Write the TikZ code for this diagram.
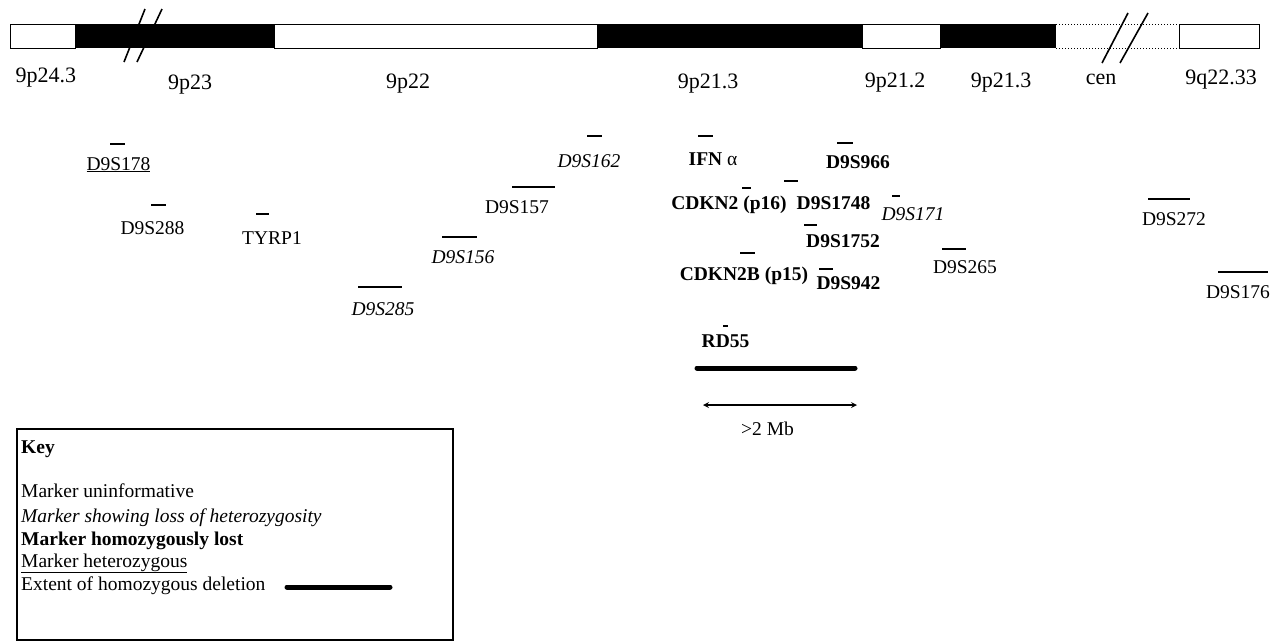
\documentclass[tikz,border=0pt]{standalone}
\usepackage{fontspec}
\setmainfont{Liberation Serif}
\newcommand\lblsize{\fontsize{19.5}{23}\selectfont}
\newcommand\bandsize{\fontsize{22}{26}\selectfont}
\tikzset{
  band/.style={draw=black,fill=white,line width=1pt},
  dband/.style={fill=black},
  cenline/.style={draw=black,dotted,line width=1pt},
  brk/.style={draw=black,line width=1.6pt},
  bandlbl/.style={anchor=base,inner sep=0pt,font=\bandsize},
  uninf/.style={anchor=base,inner sep=0pt,font=\lblsize},
  loh/.style={uninf,font=\lblsize\itshape},
  homlost/.style={uninf,font=\lblsize\bfseries},
  tick/.style={draw=black,line width=1.3pt},
  tickthick/.style={draw=black,line width=2.6pt},
  delbar/.style={draw=black,line width=5pt,line cap=round},
  span/.style={draw=black,line width=1.6pt,<->,>=stealth},
  keytxt/.style={anchor=base west,inner sep=0pt,font=\lblsize}
}

\begin{document}
\begin{tikzpicture}[x=1pt,y=-1pt]
  \useasboundingbox (0,0) rectangle (1287,641);
  % chromosome 9 bar
  \draw[band] (10,24) rectangle (75,48);
  \fill[dband] (75,24) rectangle (274,48);
  \draw[band] (274,24) rectangle (597,48);
  \fill[dband] (597,24) rectangle (862,48);
  \draw[band] (862,24) rectangle (940,48);
  \fill[dband] (940,24) rectangle (1056,48);
  \draw[cenline] (1056,24) -- (1179,24);
  \draw[cenline] (1056,48) -- (1179,48);
  \draw[band] (1179,24) rectangle (1259,48);
  \draw[brk] (124,62) -- (145,9);
  \draw[brk] (137,62) -- (162,9);
  \draw[brk] (1102,63) -- (1128,13);
  \draw[brk] (1120,63) -- (1148,13);

  % band labels
  \node[bandlbl] (p243) at (46,82) {9p24.3};
  \node[bandlbl] (p23) at (190,89) {9p23};
  \node[bandlbl] (p22) at (408,88) {9p22};
  \node[bandlbl] (p213a) at (708,88) {9p21.3};
  \node[bandlbl] (p212) at (895,87) {9p21.2};
  \node[bandlbl] (p213b) at (1001,87) {9p21.3};
  \node[bandlbl] (cen) at (1101,84) {cen};
  \node[bandlbl] (q2233) at (1221,84) {9q22.33};

  % markers
  \draw[tickthick] (110,144) -- (125,144);
  \node[uninf] (s178) at (118.5,170) {\underline{D9S178}};
  \draw[tickthick] (151,205) -- (166,205);
  \node[uninf] (s288) at (152.5,234) {D9S288};
  \draw[tick] (256,214) -- (269,214);
  \node[uninf] (tyrp1) at (272,244) {TYRP1};
  \draw[tick] (358,287) -- (385,287);
  \draw[tickthick] (385,287) -- (402,287);
  \node[loh] (s285) at (383,315) {D9S285};
  \draw[tick] (442,237) -- (477,237);
  \node[loh] (s156) at (463,263) {D9S156};
  \draw[tick] (512,187) -- (555,187);
  \node[uninf] (s157) at (517,213) {D9S157};
  \draw[tickthick] (587,136) -- (602,136);
  \node[loh] (s162) at (589,167) {D9S162};
  \draw[tick] (698,136) -- (713,136);
  \node[homlost] (ifna) at (713,165) {IFN {\mdseries α}};
  \draw[tick] (837,143) -- (853,143);
  \node[homlost] (s966) at (858,168) {D9S966};
  \draw[tickthick] (742,188) -- (751,188);
  \node[homlost] (cdkn2) at (729,209) {CDKN2 (p16)};
  \draw[tick] (784,181) -- (798,181);
  \node[homlost] (s1748) at (833.5,209) {D9S1748};
  \draw[tick] (892,196) -- (900,196);
  \node[loh] (s171) at (913,220) {D9S171};
  \draw[tick] (804,225) -- (817,225);
  \node[homlost] (s1752) at (843,247) {D9S1752};
  \draw[tick] (740,253) -- (755,253);
  \node[homlost] (cdkn2b) at (744,280) {CDKN2B (p15)};
  \draw[tick] (819,269) -- (833,269);
  \node[homlost] (s942) at (848.5,289) {D9S942};
  \draw[tick] (942,249) -- (955,249);
  \draw[tickthick] (955,249) -- (966,249);
  \node[uninf] (s265) at (965,273) {D9S265};
  \draw[tick] (1148,199) -- (1190,199);
  \node[uninf] (s272) at (1174,225) {D9S272};
  \draw[tickthick] (1218,272) -- (1268,272);
  \node[uninf] (s176) at (1238,298) {D9S176};
  \draw[tick] (723,326) -- (728,326);
  \node[homlost] (rd55) at (725.5,347) {RD55};

  % homozygous deletion
  \coordinate (delL) at (697,368);
  \coordinate (delR) at (855,368);
  \draw[delbar] (delL) -- (delR);
  \coordinate (arL) at (703,405);
  \coordinate (arR) at (857,405);
  \draw[span] (arL) -- (arR);
  \node[uninf] (mb) at (767.5,435) {>2 Mb};

  % key
  \draw[line width=1.2pt] (17,429) rectangle (453,640);
  \node[keytxt,font=\lblsize\bfseries] (key) at (21,453) {Key};
  \node[keytxt] (k1) at (21,497) {Marker uninformative};
  \node[keytxt,font=\lblsize\itshape] (k2) at (21,522) {Marker showing loss of heterozygosity};
  \node[keytxt,font=\lblsize\bfseries] (k3) at (21,545) {Marker homozygously lost};
  \node[keytxt] (k4) at (21,567) {\underline{Marker heterozygous}};
  \node[keytxt] (k5) at (21,590) {Extent of homozygous deletion};
  \coordinate (keyL) at (287,587);
  \coordinate (keyR) at (390,587);
  \draw[delbar] (keyL) -- (keyR);
\end{tikzpicture}
\end{document}
